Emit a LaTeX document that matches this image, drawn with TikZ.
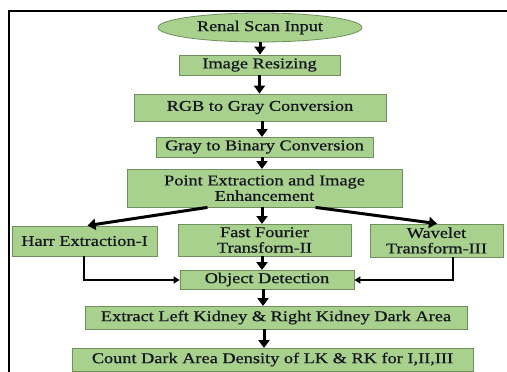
\documentclass[tikz,border=0pt]{standalone}
\usepackage{fontspec}
\setmainfont{Liberation Serif}[FakeStretch=1.22,FakeBold=0.6]
\usetikzlibrary{shapes.geometric,arrows.meta,calc}
\definecolor{boxfill}{HTML}{A9D18E}
\definecolor{boxdraw}{HTML}{6F8F5E}
\definecolor{txt}{HTML}{15151F}
\tikzset{
  box/.style={draw=boxdraw, line width=0.8pt, fill=boxfill, inner sep=0pt, align=center,
    text=txt, font=\fontsize{15}{15.5}\selectfont},
  arr/.style={line width=3pt, -{Triangle[width=11pt,length=8pt]}},
  thin/.style={line width=2pt, -{Triangle[width=7pt,length=6pt]}},
  frame/.style={line width=2pt}
}
\begin{document}
\begin{tikzpicture}[x=1pt,y=-1pt]
\useasboundingbox (0,0) rectangle (507,372);
\draw[frame] (9,372) -- (9,11) -- (507,11);
\node[box, ellipse, minimum width=204pt, minimum height=29pt] (ell) at (260,27.5) {Renal Scan Input};
\node[box, minimum width=161pt, minimum height=20pt] (resize) at (259.5,65) {Image Resizing};
\node[box, minimum width=252pt, minimum height=27pt] (rgb) at (260,107.5) {RGB to Gray Conversion};
\node[box, minimum width=217pt, minimum height=20pt] (bin) at (264.5,147) {Gray to Binary Conversion};
\node[box, minimum width=275pt, minimum height=38pt] (point) at (264.5,188) {Point Extraction and Image\\Enhancement};
\node[box, minimum width=145pt, minimum height=30pt] (harr) at (84.5,241) {Harr Extraction-I};
\node[box, minimum width=173pt, minimum height=32pt] (fft) at (264.5,240) {Fast Fourier\\Transform-II};
\node[box, minimum width=133pt, minimum height=33pt] (wave) at (436.5,240.5) {Wavelet\\Transform-III};
\node[box, minimum width=174pt, minimum height=19pt] (obj) at (267,279.5) {Object Detection};
\node[box, minimum width=382pt, minimum height=23pt] (ext) at (276,317.5) {Extract Left Kidney \& Right Kidney Dark Area};
\node[box, minimum width=401pt, minimum height=23pt] (cnt) at (272.5,359.5) {Count Dark Area Density of LK \& RK for I,II,III};
\draw[arr] (ell.south) -- (ell.south |- resize.north);
\draw[arr] (resize.south) -- (resize.south |- rgb.north);
\draw[arr] (262,121) -- (262,137);
\draw[arr] (262,157) -- (262,169);
\draw[arr] (262,207) -- (262,224);
\draw[arr] ($(point.south)+(-57,0)$) -- ($(harr.north)+(3,0)$);
\draw[arr] ($(point.south)+(51,0)$) -- ($(wave.north)+(0.5,0)$);
\draw[arr] (262,256) -- (262,270);
\draw[arr] (263,289) -- (263,306);
\draw[arr] (264,329) -- (264,348);
\coordinate (hc) at (84,280);
\coordinate (wc) at (453,280);
\draw[thin] (harr.south -| hc) -- (hc) -- (obj.west |- hc);
\draw[thin] (wave.south -| wc) -- (wc) -- (obj.east |- wc);
\end{tikzpicture}
\end{document}
